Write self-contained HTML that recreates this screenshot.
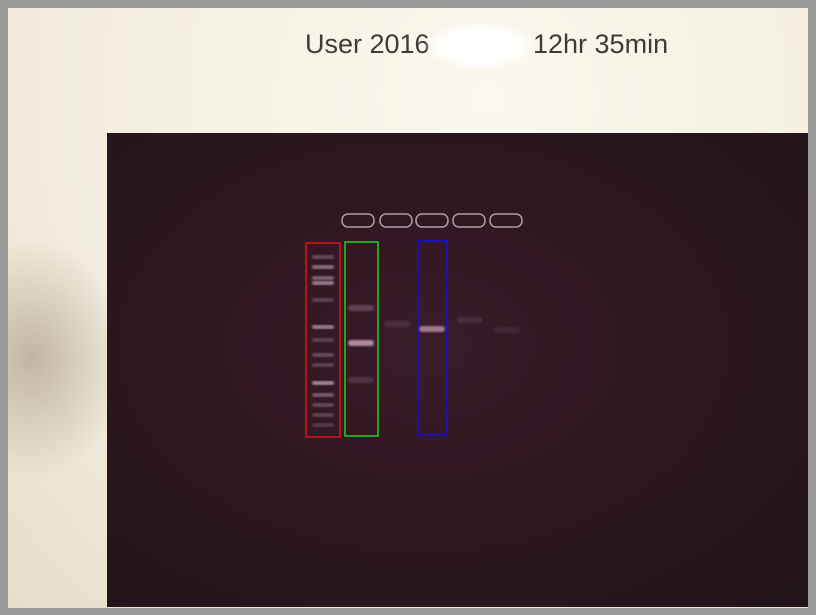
<!DOCTYPE html>
<html><head><meta charset="utf-8"><style>
html,body{margin:0;padding:0}
body{width:816px;height:615px;overflow:hidden;background:#9a9a9a;position:relative;font-family:"Liberation Sans",sans-serif}
#paper{position:absolute;left:8px;top:8px;width:800px;height:600px;background:radial-gradient(ellipse at 60% 15%,#fbf8ee 0%,#f3eedf 60%,#e6dfcc 100%)}
#shadow{position:absolute;left:0;top:230px;width:120px;height:240px;background:radial-gradient(ellipse at 20% 50%,rgba(150,130,110,.5),rgba(150,130,110,0) 70%)}
.title{position:absolute;top:29px;font-size:27px;color:#3e3b3b;white-space:nowrap}
#glare{position:absolute;left:425px;top:22px;width:110px;height:48px;border-radius:50%;background:radial-gradient(ellipse,#fff 45%,rgba(255,255,255,0) 75%)}
#gel{position:absolute;left:107px;top:133px;width:701px;height:474px;background:radial-gradient(ellipse at 45% 45%,#3a1b29 0%,#2e1721 45%,#21141a 100%)}
</style></head><body>
<div id="paper"><div id="shadow"></div></div>
<div class="title" style="left:305px">User 2016</div>
<div class="title" style="left:533px">12hr 35min</div>
<div id="glare"></div>
<div id="gel"></div>
<svg id="svg" width="816" height="615" style="position:absolute;left:0;top:0"><defs><filter id="b"><feGaussianBlur stdDeviation="1"/></filter></defs></svg>
<script>
const wellCenters=[358,396,432,469,506];
const laneCenters=[323,361,397,432,470,507];
const ladderBands=[257,267,278,283,300,327,340,355,365,383,395,405,415,425];
const ladderIntensity=[.3,.5,.45,.6,.25,.6,.25,.3,.25,.65,.4,.3,.25,.2];
const sampleLane=[1,1,1,2,3,4,5];
const sampleBands=[308,343,380,324,329,320,330];
const sampleIntensity=[.25,.7,.15,.12,.6,.12,.08];
const boxes=[{x1:306,y1:243,x2:340,y2:437,c:'#e01010'},{x1:345,y1:242,x2:378,y2:436,c:'#20d020'},{x1:418,y1:241,x2:447,y2:435,c:'#1010e0'}];
const ns='http://www.w3.org/2000/svg',svg=document.getElementById('svg');
function mk(t,a){const e=document.createElementNS(ns,t);for(const k in a)e.setAttribute(k,a[k]);svg.appendChild(e);return e;}
wellCenters.forEach(c=>{
 const e=mk('rect',{x:c-16,y:214,width:32,height:13,rx:6,fill:'none',stroke:'#c8b4c0','stroke-width':1.5,opacity:.85});
 
 
});
ladderBands.forEach((y,i)=>{
 const e=mk('rect',{x:laneCenters[0]-11,y:y-2,width:22,height:4,rx:2,fill:'#e8c4d8',opacity:ladderIntensity[i],filter:'url(#b)'});
 
 
});
sampleBands.forEach((y,i)=>{
 const c=laneCenters[sampleLane[i]];
 const e=mk('rect',{x:c-13,y:y-3,width:26,height:6,rx:3,fill:'#e8bcd4',opacity:sampleIntensity[i],filter:'url(#b)'});
 
 
});
boxes.forEach(b=>{
 const e=mk('rect',{x:b.x1,y:b.y1,width:b.x2-b.x1,height:b.y2-b.y1,fill:'none',stroke:b.c,'stroke-width':1.5});
 
 
});
</script>
</body></html>
